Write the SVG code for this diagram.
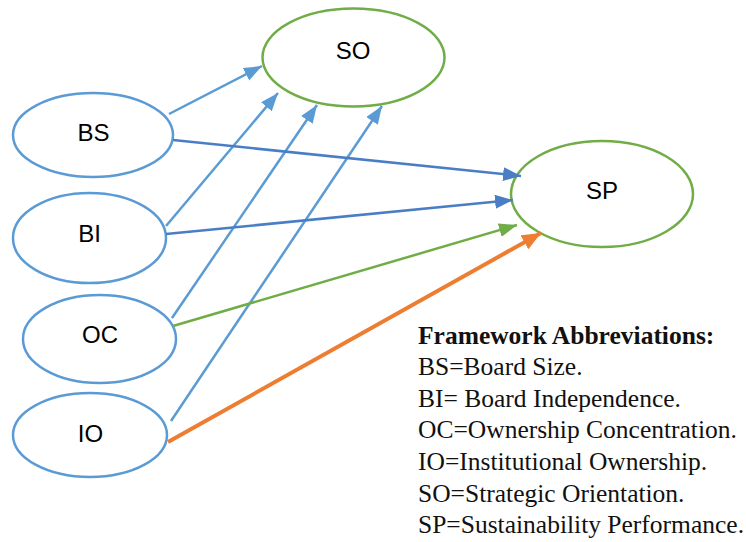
<svg xmlns="http://www.w3.org/2000/svg" width="746" height="542" viewBox="0 0 746 542">
<style>
.nb{fill:#fff;stroke:#5B9BD5;stroke-width:2.5}
.ng{fill:#fff;stroke:#70AD47;stroke-width:2.5}
.lbl{font-family:"Liberation Sans",Arial,sans-serif;font-size:24px;fill:#000;text-anchor:middle}
.c{fill:none;stroke-width:2.5}
.co{fill:none;stroke-width:4;stroke:#ED7D31}
.leg{font-family:"Liberation Serif","Times New Roman",serif;font-size:25.5px;fill:#111}
</style>
<defs>
<marker id="aL" markerUnits="userSpaceOnUse" markerWidth="20" markerHeight="16" refX="18" refY="7" orient="auto"><path d="M0,0 L18,7 L0,14 z" fill="#5B9BD5"/></marker>
<marker id="aD" markerUnits="userSpaceOnUse" markerWidth="20" markerHeight="16" refX="18" refY="7" orient="auto"><path d="M0,0 L18,7 L0,14 z" fill="#4A7EC4"/></marker>
<marker id="aG" markerUnits="userSpaceOnUse" markerWidth="20" markerHeight="16" refX="18" refY="7" orient="auto"><path d="M0,0 L18,7 L0,14 z" fill="#70AD47"/></marker>
<marker id="aO" markerUnits="userSpaceOnUse" markerWidth="22" markerHeight="18" refX="19" refY="8" orient="auto"><path d="M0,0 L19,8 L0,16 z" fill="#ED7D31"/></marker>
</defs>
<rect width="746" height="542" fill="#fff"/>
<g id="SO"><ellipse class="ng" cx="353.5" cy="57.5" rx="91" ry="49"/><text class="lbl" x="353" y="59">SO</text></g>
<g id="SP"><ellipse class="ng" cx="602" cy="194" rx="91" ry="53"/><text class="lbl" x="602" y="199">SP</text></g>
<g id="BS"><ellipse class="nb" cx="93" cy="135" rx="80" ry="42"/><text class="lbl" x="93.5" y="141">BS</text></g>
<g id="BI"><ellipse class="nb" cx="89.5" cy="238" rx="76.5" ry="45"/><text class="lbl" x="89.5" y="242">BI</text></g>
<g id="OC"><ellipse class="nb" cx="99.5" cy="339" rx="76.5" ry="44"/><text class="lbl" x="100" y="343">OC</text></g>
<g id="IO"><ellipse class="nb" cx="90" cy="435" rx="77" ry="42"/><text class="lbl" x="90.5" y="442">IO</text></g>
<g id="connectors">
<line class="c" stroke="#5B9BD5" x1="169" y1="114" x2="262" y2="66" marker-end="url(#aL)"/>
<line class="c" stroke="#5B9BD5" x1="166" y1="226" x2="278" y2="93" marker-end="url(#aL)"/>
<line class="c" stroke="#5B9BD5" x1="172" y1="318" x2="317" y2="105" marker-end="url(#aL)"/>
<line class="c" stroke="#5B9BD5" x1="171" y1="421" x2="382" y2="106" marker-end="url(#aL)"/>
<line class="c" stroke="#4A7EC4" x1="173" y1="140" x2="521" y2="176" marker-end="url(#aD)"/>
<line class="c" stroke="#4A7EC4" x1="166" y1="234" x2="513" y2="200" marker-end="url(#aD)"/>
<line class="c" stroke="#70AD47" x1="173" y1="326" x2="517" y2="225" marker-end="url(#aG)"/>
<line class="co" x1="168" y1="442" x2="541" y2="233" marker-end="url(#aO)"/>
</g>
<g id="legend">
<text class="leg" x="418" y="344" font-weight="bold">Framework Abbreviations:</text>
<text class="leg" x="418" y="375">BS=Board Size.</text>
<text class="leg" x="418" y="407">BI= Board Independence.</text>
<text class="leg" x="418" y="438">OC=Ownership Concentration.</text>
<text class="leg" x="418" y="470">IO=Institutional Ownership.</text>
<text class="leg" x="418" y="502">SO=Strategic Orientation.</text>
<text class="leg" x="418" y="533">SP=Sustainability Performance.</text>
</g>
</svg>
